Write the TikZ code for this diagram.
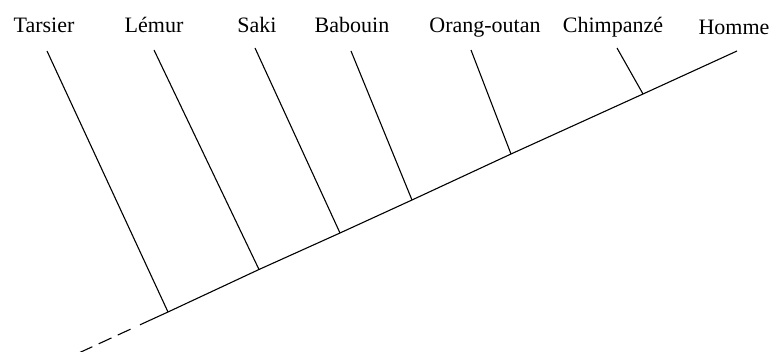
\documentclass[tikz,border=0pt]{standalone}
\usepackage{fontspec}
\setmainfont{Liberation Serif}
\begin{document}
\begin{tikzpicture}[x=1pt,y=-1pt,
  branch/.style={draw=black,line width=1.1pt},
  lbl/.style={inner sep=0pt,anchor=base,font=\fontsize{22}{26}\selectfont}]
\useasboundingbox (0,0) rectangle (772,352);
\clip (0,0) rectangle (772,352);
% labels
\node[lbl] (tarsier) at (44,33) {Tarsier};
\node[lbl] (lemur) at (154,33) {Lémur};
\node[lbl] (saki) at (257,33) {Saki};
\node[lbl] (babouin) at (352,33) {Babouin};
\node[lbl] (orang) at (485,33) {Orang-outan};
\node[lbl] (chimp) at (613,33) {Chimpanzé};
\node[lbl] (homme) at (734,35) {Homme};
% branch tops
\coordinate (tT) at (47,51);
\coordinate (tL) at (154,50);
\coordinate (tS) at (255,48);
\coordinate (tB) at (351,51);
\coordinate (tO) at (471,50);
\coordinate (tC) at (617,48);
\coordinate (tH) at (737,51);
% junctions on the trunk
\coordinate (jT) at (168,312);
\coordinate (jL) at (259,269.5);
\coordinate (jS) at (340,233);
\coordinate (jB) at (412,200);
\coordinate (jO) at (511,154);
\coordinate (jC) at (643,94);
\coordinate (d0) at (140,324.8);
\coordinate (d1) at (130.5,329.2);
\coordinate (d2) at (70,357);
% trunk
\draw[branch] (tH) -- (jC) -- (jO) -- (jB) -- (jS) -- (jL) -- (jT) -- (d0);
\draw[branch,dash pattern=on 14pt off 7pt] (d1) -- (d2);
% branches
\draw[branch] (tT) -- (jT);
\draw[branch] (tL) -- (jL);
\draw[branch] (tS) -- (jS);
\draw[branch] (tB) -- (jB);
\draw[branch] (tO) -- (jO);
\draw[branch] (tC) -- (jC);
\end{tikzpicture}
\end{document}
